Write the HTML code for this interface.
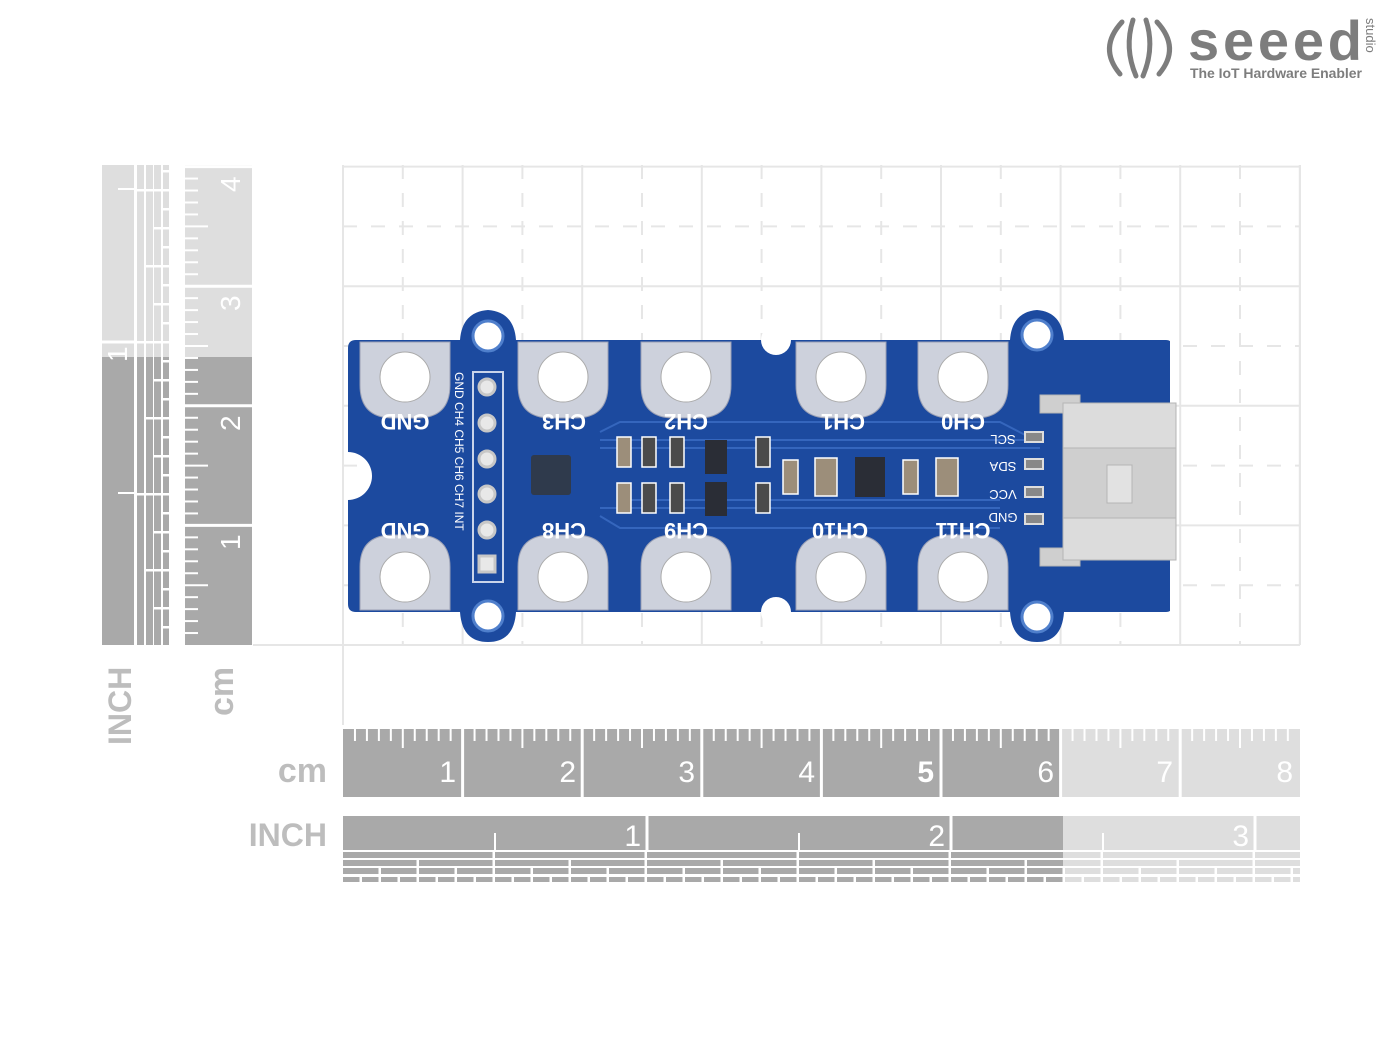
<!DOCTYPE html>
<html><head><meta charset="utf-8"><style>
html,body{margin:0;padding:0;background:#fff;width:1400px;height:1050px;overflow:hidden}
svg{display:block}
text{font-family:"Liberation Sans","DejaVu Sans",sans-serif}
</style></head><body>
<svg id="s" width="1400" height="1050" viewBox="0 0 1400 1050" xmlns="http://www.w3.org/2000/svg">
<g id="grid"></g>
<g id="rulers"></g>
<text x="327" y="782" text-anchor="end" font-size="34" font-weight="bold" fill="#bdbdbd">cm</text>
<text x="327" y="846" text-anchor="end" font-size="32" font-weight="bold" fill="#bdbdbd">INCH</text>
<text transform="translate(131,745) rotate(-90)" font-size="32" font-weight="bold" fill="#bdbdbd">INCH</text>
<text transform="translate(233,716) rotate(-90)" font-size="34" font-weight="bold" fill="#bdbdbd">cm</text>
<g font-size="30" fill="#fff" text-anchor="end">
<text x="456" y="782">1</text><text x="576" y="782">2</text><text x="695" y="782">3</text><text x="815" y="782">4</text><text x="934" y="782" font-weight="bold">5</text><text x="1054" y="782">6</text><text x="1173" y="782">7</text><text x="1293" y="782">8</text>
</g>
<g font-size="30" fill="#fff" text-anchor="end">
<text x="641" y="846">1</text><text x="945" y="846">2</text><text x="1249" y="846">3</text>
</g>
<g font-size="28" fill="#fff">
<text transform="translate(240,550) rotate(-90)">1</text>
<text transform="translate(240,431) rotate(-90)">2</text>
<text transform="translate(240,311) rotate(-90)">3</text>
<text transform="translate(240,192) rotate(-90)">4</text>
<text transform="translate(127,362) rotate(-90)">1</text>
</g>

<g id="board">
<path d="M356 340 H460 Q462 312 488 310 Q514 312 516 340 H1010 Q1012 312 1037 310 Q1062 312 1064 340 H1166 Q1172 340 1172 346 V606 Q1172 612 1166 612 H1064 Q1062 642 1037 642 Q1012 642 1010 612 H516 Q514 642 488 642 Q462 642 460 612 H356 Q348 612 348 604 V500 A24 24 0 0 0 348 452 V348 Q348 340 356 340 Z" fill="#1c4a9f"/>
<circle cx="776" cy="340" r="15" fill="#fff"/>
<circle cx="776" cy="612" r="15" fill="#fff"/>
<rect x="1170" y="340" width="6" height="272" fill="#fff"/>
<g fill="#fff" stroke="#4f7fcc" stroke-width="3">
<circle cx="488" cy="336" r="15"/><circle cx="488" cy="616" r="15"/>
<circle cx="1037" cy="335" r="15"/><circle cx="1037" cy="617" r="15"/>
</g>
<g id="pads" fill="#cdd1dc" stroke="#9aa0b5" stroke-width="1"></g>
<g stroke="#3566bd" stroke-width="2" fill="none">
<path d="M600 440 H1040"/><path d="M600 448 H1040"/><path d="M620 500 H1000"/><path d="M600 508 H1000"/>
<path d="M600 432 L620 422 H1000 L1035 440"/><path d="M600 516 L620 528 H1000"/>
</g>
<rect x="473" y="372" width="30" height="210" fill="none" stroke="#c9d4ea" stroke-width="2"/>
<g fill="#e8e8e8" stroke="#c7c7c7" stroke-width="3">
<circle cx="487" cy="387" r="8"/><circle cx="487" cy="423" r="8"/><circle cx="487" cy="459" r="8"/><circle cx="487" cy="494" r="8"/><circle cx="487" cy="530" r="8"/>
<rect x="479" y="556" width="16" height="16"/>
</g>
<g fill="#fff" font-family="Liberation Mono, monospace" font-size="12">
<text transform="translate(455,372) rotate(90)">GND CH4 CH5 CH6 CH7 INT</text>
</g>
<rect x="531" y="455" width="40" height="40" rx="3" fill="#2f3a4c"/>
<g fill="#d8d8d8" stroke="#fff" stroke-width="1.5">
<rect x="617" y="437" width="14" height="30" fill="#9c8e7a"/><rect x="642" y="437" width="14" height="30" fill="#4b4b4b"/><rect x="670" y="437" width="14" height="30" fill="#4b4b4b"/>
<rect x="617" y="483" width="14" height="30" fill="#9c8e7a"/><rect x="642" y="483" width="14" height="30" fill="#4b4b4b"/><rect x="670" y="483" width="14" height="30" fill="#4b4b4b"/>
<rect x="756" y="437" width="14" height="30" fill="#4b4b4b"/><rect x="756" y="483" width="14" height="30" fill="#4b4b4b"/>
<rect x="783" y="460" width="15" height="34" fill="#9c8e7a"/><rect x="815" y="458" width="22" height="38" fill="#9c8e7a"/>
<rect x="903" y="460" width="15" height="34" fill="#9c8e7a"/><rect x="936" y="458" width="22" height="38" fill="#9c8e7a"/>
</g>
<rect x="705" y="440" width="22" height="34" fill="#2a2d36"/><rect x="705" y="482" width="22" height="34" fill="#2a2d36"/>
<rect x="855" y="457" width="30" height="40" fill="#2a2d36"/>
<g fill="#cfcfcf" stroke="#b5b5b5" stroke-width="1">
<rect x="1040" y="395" width="40" height="18"/><rect x="1040" y="548" width="40" height="18"/>
<rect x="1063" y="403" width="113" height="157"/>
<rect x="1063" y="403" width="113" height="45" fill="#dcdcdc"/><rect x="1063" y="518" width="113" height="42" fill="#dcdcdc"/>
<rect x="1107" y="465" width="25" height="38" fill="#e2e2e2"/>
</g>
<g fill="#888" stroke="#ddd" stroke-width="2">
<rect x="1025" y="432" width="18" height="10"/><rect x="1025" y="459" width="18" height="10"/><rect x="1025" y="487" width="18" height="10"/><rect x="1025" y="514" width="18" height="10"/>
</g>
<g fill="#fff" font-family="Liberation Mono, monospace" font-size="22" font-weight="bold" text-anchor="middle">
<text transform="translate(405,414) rotate(180)">GND</text>
<text transform="translate(564,414) rotate(180)">CH3</text>
<text transform="translate(686,414) rotate(180)">CH2</text>
<text transform="translate(843,414) rotate(180)">CH1</text>
<text transform="translate(963,414) rotate(180)">CH0</text>
<text transform="translate(405,523) rotate(180)">GND</text>
<text transform="translate(564,523) rotate(180)">CH8</text>
<text transform="translate(686,523) rotate(180)">CH9</text>
<text transform="translate(840,523) rotate(180)">CH10</text>
<text transform="translate(963,523) rotate(180)">CH11</text>
</g>
<g fill="#fff" font-family="Liberation Mono, monospace" font-size="13" text-anchor="middle">
<text transform="translate(1003,435) rotate(180)">SCL</text>
<text transform="translate(1003,462) rotate(180)">SDA</text>
<text transform="translate(1003,490) rotate(180)">VCC</text>
<text transform="translate(1003,513) rotate(180)">GND</text>
</g>
</g>

<g fill="none" stroke="#7d7d7d" stroke-width="5" stroke-linecap="round">
<path d="M1122 22 Q1098 48 1120 74"/><path d="M1157 22 Q1181 48 1159 74"/>
<path d="M1133 20 Q1124 48 1136 76"/><path d="M1146 20 Q1155 48 1143 76"/>
</g>
<text x="1188" y="60" font-size="56" font-weight="bold" fill="#7d7d7d" textLength="174" lengthAdjust="spacing">seeed</text>
<text transform="translate(1366,18) rotate(90)" font-size="13" fill="#7d7d7d">studio</text>
<text x="1190" y="78" font-size="14" font-weight="bold" fill="#7d7d7d" textLength="172">The IoT Hardware Enabler</text>
</svg>
<script>
var NS="http://www.w3.org/2000/svg";
function el(p,t,a){var e=document.createElementNS(NS,t);for(var k in a)e.setAttribute(k,a[k]);p.appendChild(e);return e;}
var g=document.getElementById('grid'),r=document.getElementById('rulers');
var cm=119.6;
for(var i=0;i<=8;i++){var x=343+i*cm;if(x>1301)x=1300;el(g,'line',{x1:x,y1:165,x2:x,y2:645,stroke:'#e6e6e6','stroke-width':2});}
el(g,'line',{x1:1300,y1:165,x2:1300,y2:645,stroke:'#e6e6e6','stroke-width':2});
for(var j=0;j<=4;j++){var y=645-j*cm;el(g,'line',{x1:343,y1:y,x2:1300,y2:y,stroke:'#e6e6e6','stroke-width':2});}
for(var i=0;i<8;i++){var x=343+(i+0.5)*cm;el(g,'line',{x1:x,y1:165,x2:x,y2:645,stroke:'#e6e6e6','stroke-width':2,'stroke-dasharray':'14 14'});}
for(var j=0;j<4;j++){var y=645-(j+0.5)*cm;el(g,'line',{x1:343,y1:y,x2:1300,y2:y,stroke:'#e6e6e6','stroke-width':2,'stroke-dasharray':'14 14'});}
el(g,'line',{x1:253,y1:645,x2:343,y2:645,stroke:'#e6e6e6','stroke-width':2});
el(g,'line',{x1:343,y1:645,x2:343,y2:725,stroke:'#e6e6e6','stroke-width':2});
var D='#a9a9a9',L='#dedede';
el(r,'rect',{x:343,y:729,width:718,height:68,fill:D});
el(r,'rect',{x:1061,y:729,width:239,height:68,fill:L});
for(var i=1;i<8;i++){var x=343+i*cm;el(r,'line',{x1:x,y1:729,x2:x,y2:797,stroke:'#fff','stroke-width':3});}
for(var m=1;m<80;m++){if(m%10==0)continue;var x=343+m*cm/10;el(r,'line',{x1:x,y1:729,x2:x,y2:m%5==0?748:741,stroke:'#fff','stroke-width':2});}
var inch=304;
el(r,'rect',{x:343,y:816,width:720,height:34,fill:D});
el(r,'rect',{x:1063,y:816,width:237,height:34,fill:L});
for(var i=1;i<=3;i++){var x=343+i*inch;el(r,'line',{x1:x,y1:816,x2:x,y2:850,stroke:'#fff','stroke-width':3});}
for(var i=0;i<3;i++){var x=343+(i+0.5)*inch;el(r,'line',{x1:x,y1:833,x2:x,y2:850,stroke:'#fff','stroke-width':2});}
var rows=[[852,6,2],[860,6,4],[868,6,8],[877,5,16]];
rows.forEach(function(rw){var w=inch/rw[2];for(var k=0;k*w<957;k++){var x0=343+k*w,x1=Math.min(x0+w-2.5,1300);if(x0>=1300)break;
 if(x1<=1063||x0>=1063){el(r,'rect',{x:x0,y:rw[0],width:x1-x0,height:rw[1],fill:x0>=1063?L:D});}
 else{el(r,'rect',{x:x0,y:rw[0],width:1063-x0,height:rw[1],fill:D});el(r,'rect',{x:1063,y:rw[0],width:x1-1063,height:rw[1],fill:L});}}});
el(r,'rect',{x:185,y:357,width:67,height:288,fill:D});
el(r,'rect',{x:185,y:165,width:67,height:192,fill:L});
for(var i=1;i<=4;i++){var y=645-i*cm;el(r,'line',{x1:185,y1:y,x2:252,y2:y,stroke:'#fff','stroke-width':3});}
for(var m=1;m<40;m++){if(m%10==0)continue;var y=645-m*cm/10;if(y<167)break;el(r,'line',{x1:185,y1:y,x2:m%5==0?208:198,y2:y,stroke:'#fff','stroke-width':2});}
el(r,'rect',{x:102,y:357,width:32,height:288,fill:D});
el(r,'rect',{x:102,y:165,width:32,height:192,fill:L});
el(r,'line',{x1:102,y1:342,x2:170,y2:342,stroke:'#fff','stroke-width':3});
el(r,'line',{x1:118,y1:493,x2:134,y2:493,stroke:'#fff','stroke-width':2});
el(r,'line',{x1:118,y1:189,x2:134,y2:189,stroke:'#fff','stroke-width':2});
var cols=[[137,7,2],[146,7,4],[154,7,8],[163,6,16]];
cols.forEach(function(c){var h=inch/c[2];for(var k=0;;k++){var y1=645-k*h,y0=Math.max(y1-h+2.5,165);if(y1<=165)break;
 if(y0>=357||y1<=357){el(r,'rect',{x:c[0],y:y0,width:c[1],height:y1-y0,fill:y0>=357?D:L});}
 else{el(r,'rect',{x:c[0],y:357,width:c[1],height:y1-357,fill:D});el(r,'rect',{x:c[0],y:y0,width:c[1],height:357-y0,fill:L});}}});
var p=document.getElementById('pads');
[405,563,686,841,963].forEach(function(cx){
 el(p,'path',{d:'M'+(cx-45)+' 342 H'+(cx+45)+' V385 Q'+(cx+45)+' 418 '+(cx+12)+' 418 H'+(cx-12)+' Q'+(cx-45)+' 418 '+(cx-45)+' 385 Z'});
 el(p,'path',{d:'M'+(cx-45)+' 610 H'+(cx+45)+' V567 Q'+(cx+45)+' 535 '+(cx+12)+' 535 H'+(cx-12)+' Q'+(cx-45)+' 535 '+(cx-45)+' 567 Z'});
 el(p,'circle',{cx:cx,cy:377,r:25,fill:'#fff',stroke:'#aaa'});
 el(p,'circle',{cx:cx,cy:577,r:25,fill:'#fff',stroke:'#aaa'});
});
</script>
</body></html>
